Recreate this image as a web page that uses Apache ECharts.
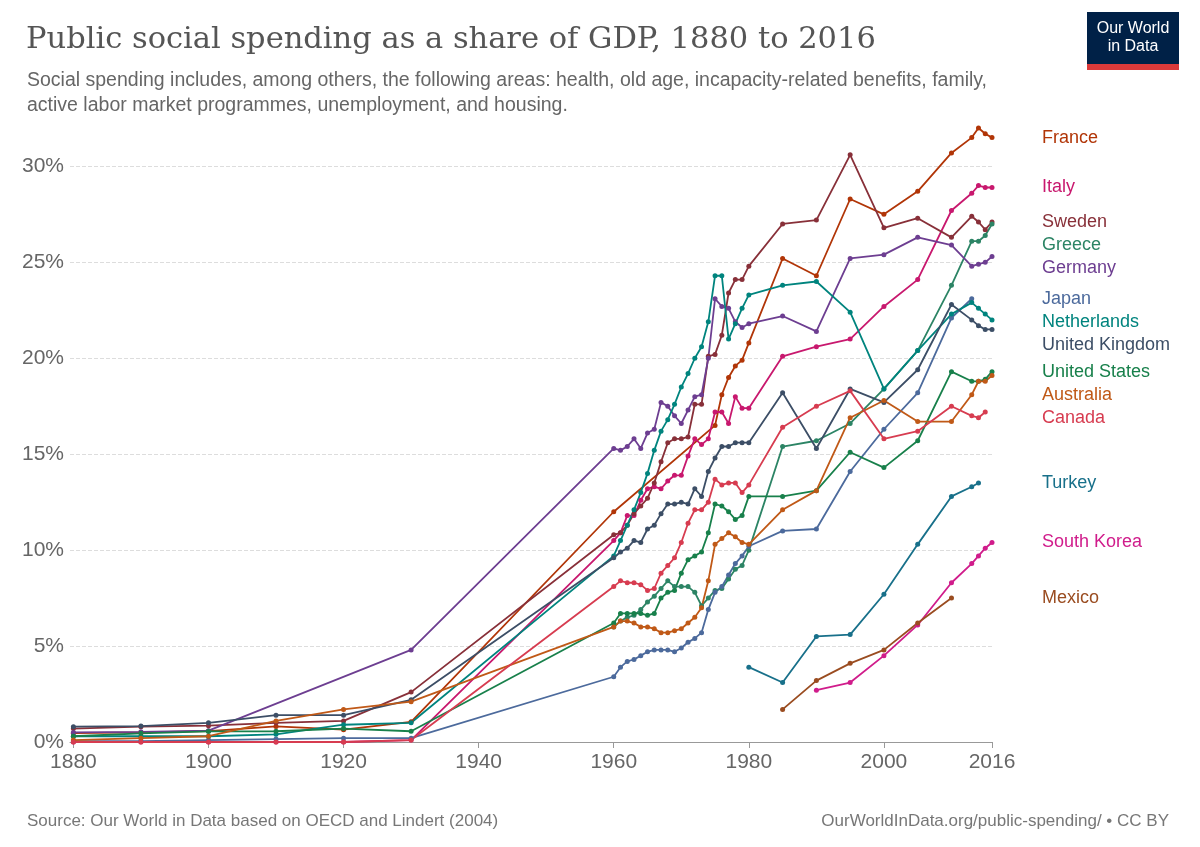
<!DOCTYPE html>
<html>
<head>
<meta charset="utf-8">
<script src="https://cdn.jsdelivr.net/npm/echarts@6/dist/echarts.min.js"></script>
<style>
  body { margin: 0; background: #fff; }
  #chart { width: 1200px; height: 847px; }
</style>
</head>
<body>
<div id="chart"></div>
<script>
const early = [1880, 1890, 1900, 1910, 1920, 1930];
const annual = [1960, 1961, 1962, 1963, 1964, 1965, 1966, 1967, 1968, 1969, 1970,
  1971, 1972, 1973, 1974, 1975, 1976, 1977, 1978, 1979, 1980];
const late = [1985, 1990, 1995, 2000, 2005, 2010, 2013, 2014, 2015, 2016];
const xTicks = [1880, 1900, 1920, 1940, 1960, 1980, 2000, 2016];

const franceYears = early.concat([1960, 1975, 1976, 1977, 1978, 1979, 1980], late);
const franceValues = [0.46, 0.5, 0.57, 0.81, 0.64, 1.05, 12.0, 16.5, 18.1, 19.0, 19.6, 19.9, 20.8,
  25.2, 24.3, 28.3, 27.5, 28.7, 30.7, 31.5, 32.0, 31.7, 31.5];
const italyValues = [0, 0, 0, 0, 0, 0.1,
  10.5, 10.9, 11.8, 11.8, 12.6, 13.2, 13.3, 13.2, 13.6, 13.9, 13.9, 14.9, 15.8, 15.5, 15.8, 17.2, 17.2, 16.6, 18.0, 17.4, 17.4,
  20.1, 20.6, 21.0, 22.7, 24.1, 27.7, 28.6, 29.0, 28.9, 28.9];
const swedenValues = [0.7, 0.8, 0.85, 1.0, 1.1, 2.6,
  10.8, 10.9, 11.3, 11.9, 12.3, 12.7, 13.5, 14.6, 15.6, 15.8, 15.8, 15.9, 17.6, 17.6, 20.1, 20.2, 21.2, 23.4, 24.1, 24.1, 24.8,
  27.0, 27.2, 30.6, 26.8, 27.3, 26.3, 27.4, 27.1, 26.7, 27.1];
const greeceValues = [6.0, 6.3, 6.5, 6.6, 6.9, 7.3, 7.6, 8.0, 8.4, 8.1, 8.1, 8.1, 7.8, 7.1, 7.5, 7.9, 8.0, 8.5, 9.0, 9.2, 10.0,
  15.4, 15.7, 16.6, 18.4, 20.4, 23.8, 26.1, 26.1, 26.4, 27.0];
const germanyYears = [1880, 1890, 1900, 1930].concat(annual, late);
const germanyValues = [0.5, 0.53, 0.59, 4.8,
  15.3, 15.2, 15.4, 15.8, 15.3, 16.1, 16.3, 17.7, 17.5, 17.0, 16.6, 17.3, 18.0, 18.1, 20.0, 23.1, 22.7, 22.6, 21.9, 21.6, 21.8,
  22.2, 21.4, 25.2, 25.4, 26.3, 25.9, 24.8, 24.9, 25.0, 25.3];
const japanYears = early.concat(annual, [1985, 1990, 1995, 2000, 2005, 2010, 2013]);
const japanValues = [0.05, 0.05, 0.1, 0.15, 0.2, 0.2,
  3.4, 3.9, 4.2, 4.3, 4.5, 4.7, 4.8, 4.8, 4.8, 4.7, 4.9, 5.2, 5.4, 5.7, 6.9, 7.8, 8.1, 8.7, 9.3, 9.7, 10.2,
  11.0, 11.1, 14.1, 16.3, 18.2, 22.1, 23.1];
const netherlandsValues = [0.3, 0.3, 0.3, 0.4, 0.9, 1.0,
  9.7, 10.5, 11.3, 12.1, 13.0, 14.0, 15.2, 16.2, 16.8, 17.6, 18.5, 19.2, 20.0, 20.6, 21.9, 24.3, 24.3, 21.0, 21.8, 22.6, 23.3,
  23.8, 24.0, 22.4, 18.4, 20.4, 22.3, 22.9, 22.6, 22.3, 22.0];
const ukValues = [0.8, 0.83, 1.0, 1.4, 1.4, 2.2,
  9.6, 9.9, 10.1, 10.5, 10.4, 11.1, 11.3, 11.9, 12.4, 12.4, 12.5, 12.4, 13.2, 12.8, 14.1, 14.8, 15.4, 15.4, 15.6, 15.6, 15.6,
  18.2, 15.3, 18.4, 17.7, 19.4, 22.8, 22.0, 21.7, 21.5, 21.5];
const usValues = [0.3, 0.45, 0.55, 0.56, 0.7, 0.56,
  6.2, 6.7, 6.7, 6.7, 6.7, 6.6, 6.7, 7.5, 7.8, 7.9, 8.8, 9.5, 9.7, 9.9, 10.9, 12.4, 12.3, 12.0, 11.6, 11.8, 12.8,
  12.8, 13.1, 15.1, 14.3, 15.7, 19.3, 18.8, 18.8, 18.9, 19.3];
const australiaValues = [0.1, 0.2, 0.3, 1.1, 1.7, 2.1,
  6.0, 6.3, 6.3, 6.2, 6.0, 6.0, 5.9, 5.7, 5.7, 5.8, 5.9, 6.2, 6.5, 7.0, 8.4, 10.3, 10.6, 10.9, 10.7, 10.4, 10.3,
  12.1, 13.1, 16.9, 17.8, 16.7, 16.7, 18.1, 18.8, 18.8, 19.1];
const canadaYears = early.concat(annual, [1985, 1990, 1995, 2000, 2005, 2010, 2013, 2014, 2015]);
const canadaValues = [0, 0, 0, 0, 0, 0.1,
  8.1, 8.4, 8.3, 8.3, 8.2, 7.9, 8.0, 8.8, 9.2, 9.6, 10.4, 11.4, 12.1, 12.1, 12.5, 13.7, 13.4, 13.5, 13.5, 13.0, 13.4,
  16.4, 17.5, 18.3, 15.8, 16.2, 17.5, 17.0, 16.9, 17.2];
const turkeyYears = [1980, 1985, 1990, 1995, 2000, 2005, 2010, 2013, 2014];
const turkeyValues = [3.9, 3.1, 5.5, 5.6, 7.7, 10.3, 12.8, 13.3, 13.5];
const koreaYears = [1990, 1995, 2000, 2005, 2010, 2013, 2014, 2015, 2016];
const koreaValues = [2.7, 3.1, 4.5, 6.1, 8.3, 9.3, 9.7, 10.1, 10.4];
const mexicoYears = [1985, 1990, 1995, 2000, 2005, 2010];
const mexicoValues = [1.7, 3.2, 4.1, 4.8, 6.2, 7.5];

const zip = (xs, ys) => xs.map((x, i) => [x, ys[i]]);

const countries = [
  { name: 'France', color: '#b13507', data: zip(franceYears, franceValues) },
  { name: 'Italy', color: '#c8186e', data: zip(early.concat(annual, late), italyValues) },
  { name: 'Sweden', color: '#883039', data: zip(early.concat(annual, late), swedenValues) },
  { name: 'Greece', color: '#2c8465', data: zip(annual.concat(late), greeceValues) },
  { name: 'Germany', color: '#6d3e91', data: zip(germanyYears, germanyValues) },
  { name: 'Japan', color: '#4c6a9c', data: zip(japanYears, japanValues) },
  { name: 'Netherlands', color: '#00847e', data: zip(early.concat(annual, late), netherlandsValues) },
  { name: 'United Kingdom', color: '#3c4e66', data: zip(early.concat(annual, late), ukValues) },
  { name: 'United States', color: '#18804b', data: zip(early.concat(annual, late), usValues) },
  { name: 'Australia', color: '#c05917', data: zip(early.concat(annual, late), australiaValues) },
  { name: 'Canada', color: '#d73c50', data: zip(canadaYears, canadaValues) },
  { name: 'Turkey', color: '#18708a', data: zip(turkeyYears, turkeyValues) },
  { name: 'South Korea', color: '#d01c8b', data: zip(koreaYears, koreaValues) },
  { name: 'Mexico', color: '#9a4c20', data: zip(mexicoYears, mexicoValues) }
];

const chart = echarts.init(document.getElementById('chart'));
const font = '"Liberation Sans", Arial, sans-serif';
const pxPerYear = (1200 - 70 - 208) / (2016 - 1879.5);

chart.setOption({
  animation: false,
  textStyle: { fontFamily: font },
  title: [
    {
      text: 'Public social spending as a share of GDP, 1880 to 2016',
      left: 21, top: 20,
      textStyle: { fontFamily: '"DejaVu Serif", serif', fontSize: 30.5, fontWeight: 'normal', color: '#555' }
    },
    {
      text: 'Social spending includes, among others, the following areas: health, old age, incapacity-related benefits, family,\nactive labor market programmes, unemployment, and housing.',
      left: 22, top: 63,
      textStyle: { fontSize: 19.5, color: '#666', fontWeight: 'normal', lineHeight: 25, fontFamily: font }
    },
    {
      text: 'Source: Our World in Data based on OECD and Lindert (2004)',
      left: 22, top: 808,
      textStyle: { fontSize: 17, color: '#777', fontWeight: 'normal', fontFamily: font }
    },
    {
      text: 'OurWorldInData.org/public-spending/ • CC BY',
      right: 26, top: 808,
      textStyle: { fontSize: 17, color: '#777', fontWeight: 'normal', fontFamily: font }
    }
  ],
  graphic: [
    { type: 'rect', right: 21, top: 12, shape: { width: 92, height: 52 }, style: { fill: '#002147' } },
    { type: 'rect', right: 21, top: 64, shape: { width: 92, height: 6 }, style: { fill: '#dc3a3a' } },
    {
      type: 'text', x: 1133, y: 20,
      style: { text: 'Our World\nin Data', fill: '#fff', font: '16px ' + font, lineHeight: 18, align: 'center' }
    }
  ],
  grid: { left: 70, right: 208, top: 128, bottom: 105 },
  xAxis: {
    type: 'value', min: 1879.5, max: 2016,
    axisLine: { show: true, lineStyle: { color: '#999' } },
    axisTick: { show: true, customValues: xTicks, length: 6, lineStyle: { color: '#999' } },
    axisLabel: { customValues: xTicks, formatter: v => String(v), fontSize: 21, color: '#666', margin: 10 },
    splitLine: { show: false }
  },
  yAxis: {
    type: 'value', min: 0, max: 32, interval: 5,
    axisLine: { show: false }, axisTick: { show: false },
    axisLabel: { formatter: v => v + '%', fontSize: 21, color: '#666', margin: 6, showMaxLabel: false },
    splitLine: { showMaxLine: false, lineStyle: { type: 'dashed', color: '#ddd' } }
  },
  series: countries.map(c => {
    const lastYear = c.data[c.data.length - 1][0];
    return {
      name: c.name,
      type: 'line',
      data: c.data,
      color: c.color,
      symbol: 'circle',
      symbolSize: 5,
      showSymbol: true,
      lineStyle: { width: 1.8 },
      endLabel: {
        show: true, formatter: c.name, color: c.color, fontSize: 18, lineHeight: 23,
        distance: 50 + (2016 - lastYear) * pxPerYear
      },
      labelLayout: { moveOverlap: 'shiftY' }
    };
  })
});
</script>
</body>
</html>
